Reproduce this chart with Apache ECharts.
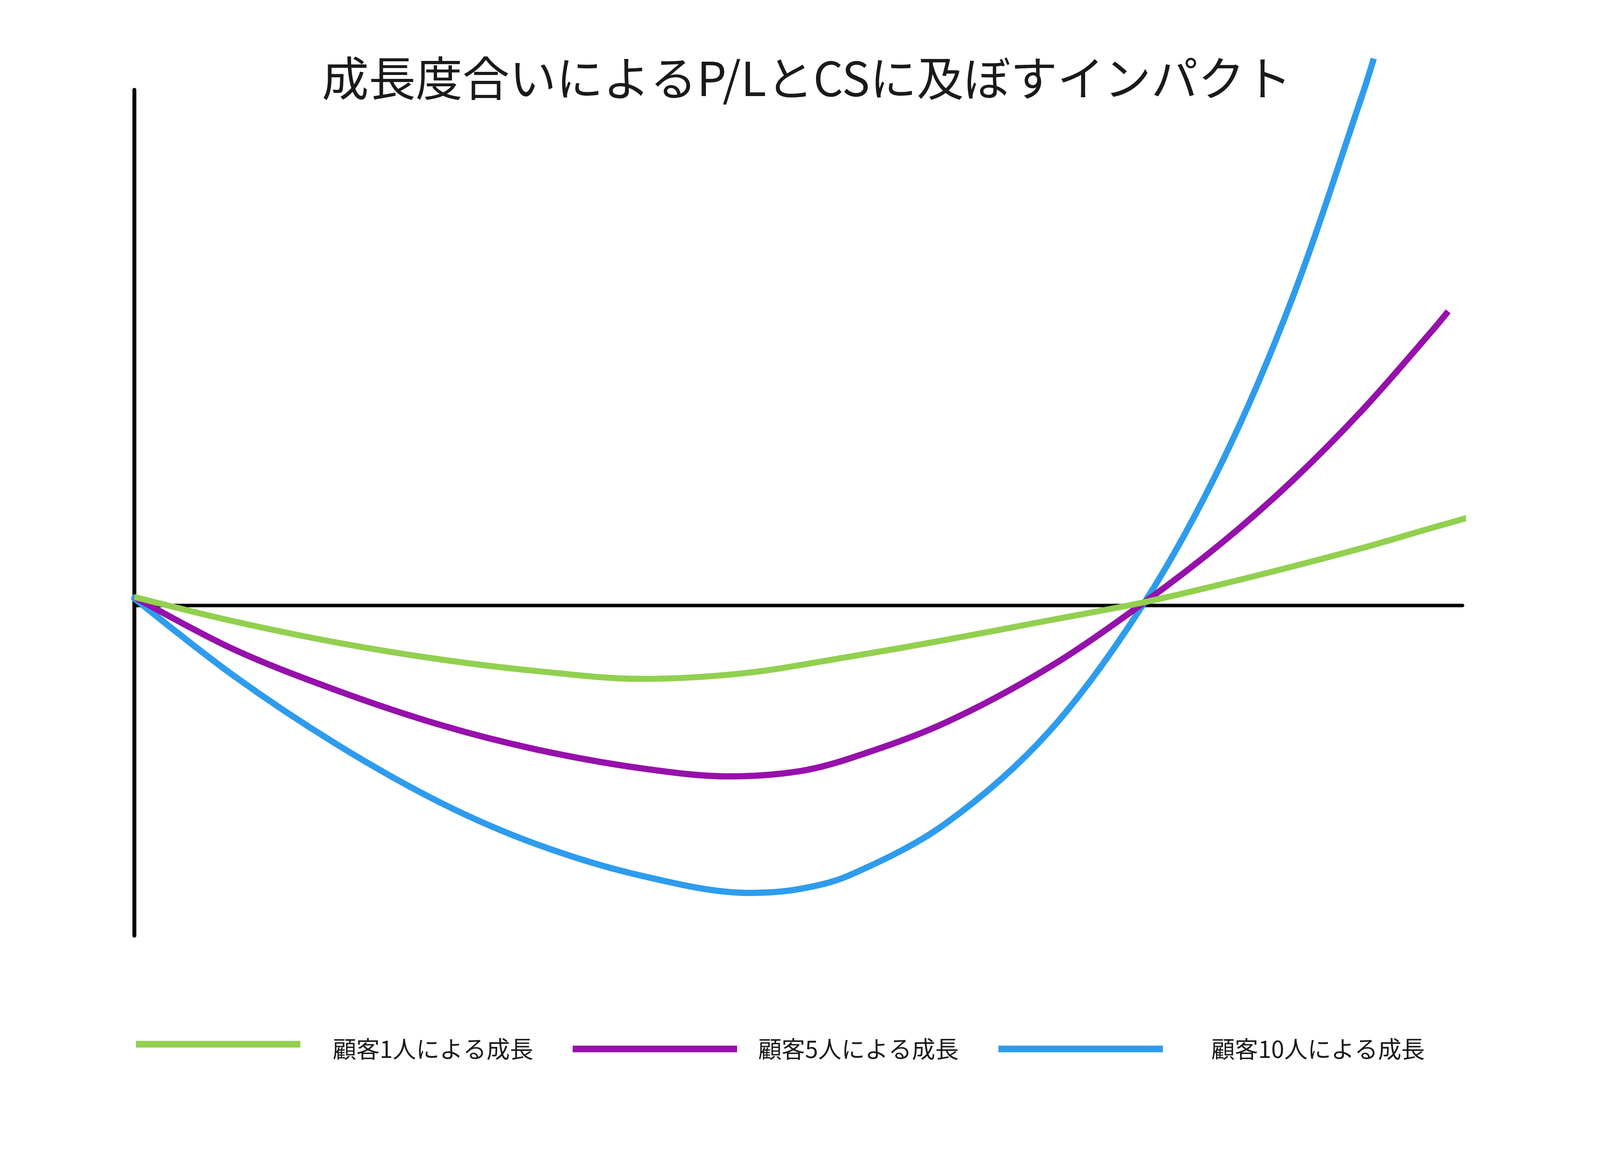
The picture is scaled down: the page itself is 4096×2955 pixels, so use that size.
<!DOCTYPE html>
<html>
<head>
<meta charset="utf-8">
<script src="https://cdn.jsdelivr.net/npm/echarts@6/dist/echarts.min.js"></script>
<style>
html,body{margin:0;padding:0;background:#fff;}
#c{width:4096px;height:2955px;}
</style>
</head>
<body>
<div id="c"></div>
<script>
const titleText = '成長度合いによるP/LとCSに及ぼすインパクト';
const seriesNames = ['顧客1人による成長', '顧客5人による成長', '顧客10人による成長'];

const greenX = [0, 7.42, 15.25, 23.08, 30.30, 38.13, 45.96, 53.79, 61.00, 68.83, 76.07, 84.49, 92.43, 97.65, 100.46];
const greenY = [2.5, -4.6, -10.9, -15.9, -19.3, -21.6, -19.9, -15.1, -10.2, -4.4, 1.0, 8.8, 16.9, 22.8, 25.9];

const purpleX = [0, 7.42, 15.25, 23.08, 30.30, 38.13, 44.78, 49.87, 53.79, 61.00, 68.83, 76.07, 81.99, 87.21, 92.43, 97.65, 98.92];
const purpleY = [2.5, -12.8, -25.0, -35.2, -42.4, -47.9, -50.3, -48.9, -45.1, -34.6, -18.3, 1.0, 18.8, 36.8, 57.4, 80.6, 86.6];

const blueX = [-0.2, 7.42, 15.25, 23.08, 30.30, 38.13, 46.26, 49.87, 53.79, 61.00, 68.83, 76.07, 81.99, 87.21, 92.43, 93.32];
const blueY = [2.7, -20.5, -40.9, -58.1, -70.3, -79.5, -84.6, -83.6, -79.5, -64.4, -37.3, 1.0, 43.0, 90.7, 150.0, 161.0];

const colors = ['#92D050', '#9611AB', '#2E9CEE'];

function pairs(xs, ys) { return xs.map((x, i) => [x, ys[i]]); }

const chart = echarts.init(document.getElementById('c'));
const font = '"Noto Sans CJK JP", "Noto Sans", sans-serif';

function mkLegend(name, left, icon, itemHeight, gap) {
  return {
    data: [name],
    left: left,
    top: 2656,
    padding: 0,
    icon: icon,
    itemWidth: 421,
    itemHeight: itemHeight,
    selectedMode: false,
    textStyle: {fontFamily: font, fontSize: 60, color: '#1a1a1a', padding: [0, 0, 0, gap]}
  };
}

chart.setOption({
  backgroundColor: '#ffffff',
  animation: false,
  title: {
    text: titleText,
    left: 824,
    top: 140,
    padding: 0,
    textStyle: {fontFamily: font, fontSize: 120, fontWeight: 'normal', color: '#1a1a1a'}
  },
  legend: [
    mkLegend(seriesNames[0], 348, 'path://M0,0H485V20H0Z M0,48', 41.8, 78),
    mkLegend(seriesNames[1], 1466, 'rect', 17, 49),
    mkLegend(seriesNames[2], 2556, 'rect', 17, 119)
  ],
  grid: {left: 344, right: 352, top: 230, bottom: 559},
  xAxis: {
    type: 'value', min: 0, max: 100,
    axisLine: {show: true, onZero: true, lineStyle: {color: '#000', width: 9}},
    axisTick: {show: false}, axisLabel: {show: false}, splitLine: {show: false}
  },
  yAxis: {
    type: 'value', min: -97.2, max: 151.8,
    axisLine: {show: true, onZero: true, lineStyle: {color: '#000', width: 10}},
    axisTick: {show: false}, axisLabel: {show: false}, splitLine: {show: false}
  },
  series: [
    {name: seriesNames[2], type: 'line', data: pairs(blueX, blueY), smooth: 0.33, symbol: 'none', clip: false,
     lineStyle: {color: colors[2], width: 16}, itemStyle: {color: colors[2]}, z: 2},
    {name: seriesNames[1], type: 'line', data: pairs(purpleX, purpleY), smooth: 0.33, symbol: 'none', clip: false,
     lineStyle: {color: colors[1], width: 16}, itemStyle: {color: colors[1]}, z: 3},
    {name: seriesNames[0], type: 'line', data: pairs(greenX, greenY), smooth: 0.33, symbol: 'none', clip: false,
     lineStyle: {color: colors[0], width: 15.5}, itemStyle: {color: colors[0]}, z: 4}
  ]
});
</script>
</body>
</html>
